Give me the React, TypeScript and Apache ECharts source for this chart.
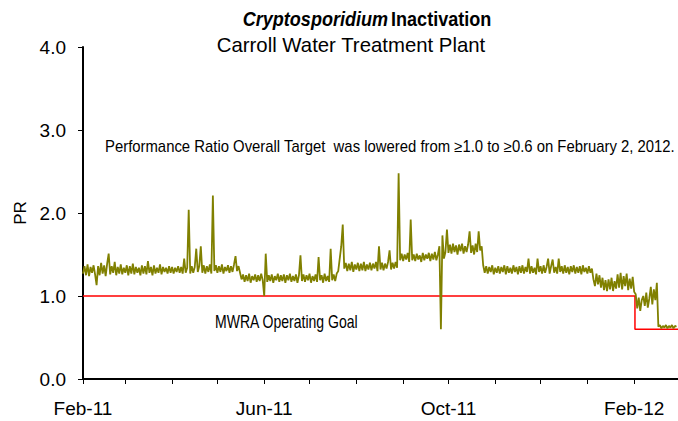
import React, { useEffect, useRef } from "react";
import * as echarts from "echarts";

// ---- data (daily PR values, Feb 1 2011 .. Feb 29 2012) ----
const START = { y: 2011, m: 1, d: 1 }; // Feb 1, 2011 (month 0-based)
const END = { y: 2012, m: 2, d: 1 }; // Mar 1, 2012 (axis end)

const prFebMay = [
  1.27, 1.36, 1.25, 1.38, 1.24, 1.35, 1.28, 1.37, 1.26, 1.13,
  1.36, 1.25, 1.40, 1.27, 1.37, 1.24, 1.39, 1.51, 1.26, 1.36,
  1.28, 1.41, 1.25, 1.35, 1.27, 1.38, 1.26, 1.34, 1.28, 1.37,
  1.25, 1.36, 1.27, 1.39, 1.26, 1.35, 1.28, 1.34, 1.25, 1.37,
  1.27, 1.36, 1.26, 1.42, 1.28, 1.35, 1.25, 1.37, 1.27, 1.34,
  1.28, 1.38, 1.26, 1.35, 1.29, 1.34, 1.27, 1.36, 1.28, 1.35,
  1.27, 1.34, 1.29, 1.36, 1.28, 1.35, 1.27, 1.45, 1.28, 1.34,
  2.04, 1.27, 1.36, 1.28, 1.35, 1.57, 1.29, 1.36, 1.60, 1.28,
  1.37, 1.27, 1.36, 1.29, 1.38, 1.27, 2.21, 1.30, 1.37, 1.28,
  1.36, 1.29, 1.38, 1.27, 1.35, 1.30, 1.37, 1.28, 1.36, 1.29,
  1.38, 1.48, 1.30, 1.36, 1.28,
];
const prMayJul = [
  1.20, 1.26, 1.17, 1.25, 1.18, 1.27, 1.16, 1.24, 1.19, 1.26,
  1.17, 1.25, 1.18, 1.27, 1.19, 1.00, 1.51, 1.17, 1.25, 1.18,
  1.26, 1.16, 1.24, 1.19, 1.27, 1.17, 1.25, 1.18, 1.26, 1.16,
  1.25, 1.19, 1.27, 1.17, 1.24, 1.18, 1.26, 1.16, 1.25, 1.49,
  1.18, 1.26, 1.17, 1.25, 1.19, 1.27, 1.16, 1.24, 1.18, 1.26,
  1.17, 1.47, 1.19, 1.25, 1.16, 1.27, 1.18, 1.24, 1.17, 1.57,
  1.19, 1.26, 1.18, 1.27, 1.30,
];
const prJulAug = [
  1.45, 1.60, 1.86, 1.33, 1.40, 1.30, 1.39, 1.31, 1.41, 1.29,
  1.38, 1.32, 1.40, 1.30, 1.39, 1.31, 1.41, 1.30, 1.38, 1.32,
  1.40, 1.31, 1.39, 1.33, 1.41, 1.30, 1.60, 1.32, 1.40, 1.31,
  1.39, 1.33, 1.41, 1.55, 1.32, 1.40, 1.33, 1.41, 1.34,
];
const prAugSep = [
  2.48, 1.43, 1.51, 1.42, 1.50, 1.44, 1.52, 1.41, 1.92, 1.43,
  1.50, 1.42, 1.51, 1.44, 1.49, 1.41, 1.52, 1.43, 1.50, 1.45,
  1.52, 1.42, 1.51, 1.44, 1.53, 1.43, 1.50, 1.60, 0.60, 1.73,
  1.45, 1.53,
];
const prOct = [
  1.80, 1.52, 1.62, 1.51, 1.63, 1.53, 1.61, 1.50, 1.62, 1.54,
  1.63, 1.51, 1.60, 1.53, 1.62, 1.78, 1.52, 1.61, 1.50, 1.63,
  1.53, 1.78, 1.55, 1.60, 1.37,
];
const prNovDec = [
  1.28, 1.36, 1.27, 1.35, 1.29, 1.37, 1.26, 1.34, 1.28, 1.36,
  1.27, 1.35, 1.29, 1.37, 1.26, 1.36, 1.28, 1.34, 1.27, 1.37,
  1.29, 1.35, 1.26, 1.36, 1.28, 1.37, 1.27, 1.35, 1.29, 1.45,
  1.27, 1.36, 1.28, 1.34, 1.26, 1.45, 1.29, 1.36, 1.27, 1.37,
  1.28, 1.35, 1.45, 1.27, 1.36, 1.44, 1.28, 1.35, 1.27, 1.45,
  1.29, 1.36, 1.27, 1.37, 1.28, 1.35, 1.26, 1.36, 1.29, 1.37,
  1.27, 1.35, 1.28, 1.36, 1.26, 1.37, 1.29, 1.34, 1.27, 1.36,
  1.28, 1.33,
];
const prJan = [
  1.20, 1.12, 1.27, 1.14, 1.25, 1.10, 1.22, 1.07, 1.19, 1.06,
  1.20, 1.08, 1.22, 1.06, 1.18, 1.09, 1.26, 1.10, 1.28, 1.08,
  1.24, 1.12, 1.27, 1.07, 1.21, 1.09, 1.23, 1.05,
];
const prEarlyFeb = [
  1.02, 0.85, 0.98, 0.82, 0.95, 1.00, 0.88, 1.04, 0.86, 0.97,
  1.11, 0.90, 1.08, 0.95, 1.16,
];
const prLateFeb = [
  0.63, 0.65, 0.61, 0.64, 0.62, 0.65, 0.61, 0.64, 0.62, 0.65,
  0.61, 0.64, 0.63,
];

const goalSteps = [
  { from: "2011-02-01", value: 1.0 },
  { from: "2012-02-02", value: 0.6 },
];

const xLabelDates = ["2011-02-01", "2011-06-01", "2011-10-01", "2012-02-01"];
const xLabelTexts = ["Feb-11", "Jun-11", "Oct-11", "Feb-12"];

const yMin = 0;
const yMax = 4;
const yStep = 1;

const titleMain = "Cryptosporidium";
const titleRest = "Inactivation";
const subtitle = "Carroll Water Treatment Plant";
const noteText =
  "Performance Ratio Overall Target  was lowered from \u22651.0 to \u22650.6 on February 2, 2012.";
const goalText = "MWRA Operating Goal";

function buildDays(): string[] {
  const out: string[] = [];
  const d = new Date(Date.UTC(START.y, START.m, START.d));
  const end = Date.UTC(END.y, END.m, END.d);
  while (d.getTime() <= end) {
    out.push(d.toISOString().slice(0, 10));
    d.setUTCDate(d.getUTCDate() + 1);
  }
  return out;
}

export default function App() {
  const ref = useRef<HTMLDivElement>(null);
  useEffect(() => {
    document.body.style.margin = "0";
    if (!ref.current) return;
    const chart = echarts.init(ref.current, null, { renderer: "svg" });
    const days = buildDays();
    const pr = [
      ...prFebMay,
      ...prMayJul,
      ...prJulAug,
      ...prAugSep,
      ...prOct,
      ...prNovDec,
      ...prJan,
      ...prEarlyFeb,
      ...prLateFeb,
    ];
    const goal = days.map((day) => {
      let v = goalSteps[0].value;
      for (const s of goalSteps) if (day >= s.from) v = s.value;
      return v;
    });
    const sans = "'Liberation Sans', Arial, sans-serif";
    chart.setOption({
      animation: false,
      backgroundColor: "#ffffff",
      grid: { left: 83, right: 0, top: 47, bottom: 42, containLabel: false },
      xAxis: {
        type: "category",
        data: days,
        boundaryGap: false,
        axisLine: { show: true, lineStyle: { color: "#000", width: 2 } },
        axisTick: {
          show: true,
          length: 5,
          lineStyle: { color: "#000", width: 1 },
          interval: (_i: number, v: string) => v.endsWith("-01"),
        },
        axisLabel: {
          interval: (_i: number, v: string) => xLabelDates.includes(v),
          formatter: (v: string) => {
            const k = xLabelDates.indexOf(v);
            return k >= 0 ? xLabelTexts[k] : "";
          },
          fontFamily: sans,
          fontSize: 19,
          color: "#000",
          margin: 20,
        },
        splitLine: { show: false },
      },
      yAxis: {
        type: "value",
        min: yMin,
        max: yMax,
        interval: yStep,
        name: "PR",
        nameLocation: "middle",
        nameRotate: 90,
        nameGap: 50,
        nameTextStyle: { fontFamily: sans, fontSize: 17, color: "#000" },
        axisLine: { show: true, lineStyle: { color: "#000", width: 2 } },
        axisTick: { show: true, length: 5, lineStyle: { color: "#000", width: 1 } },
        axisLabel: {
          formatter: (v: number) => v.toFixed(1),
          fontFamily: sans,
          fontSize: 19,
          color: "#000",
          margin: 17,
        },
        splitLine: { show: false },
      },
      graphic: [
        {
          type: "text",
          x: 367,
          y: 18,
          scaleX: 0.86,
          style: {
            text: `{i|${titleMain}} {b|${titleRest}}`,
            textAlign: "center",
            textVerticalAlign: "middle",
            rich: {
              i: { fontFamily: sans, fontSize: 21, fontWeight: "bold", fontStyle: "italic", fill: "#000" },
              b: { fontFamily: sans, fontSize: 21, fontWeight: "bold", fill: "#000" },
            },
          },
        },
        {
          type: "text",
          x: 351,
          y: 44,
          scaleX: 0.97,
          style: {
            text: subtitle,
            font: "21px 'Liberation Sans', Arial, sans-serif",
            fill: "#000",
            textAlign: "center",
            textVerticalAlign: "middle",
          },
        },
        {
          type: "text",
          x: 105,
          y: 146,
          scaleX: 0.93,
          style: {
            text: noteText,
            font: "16px 'Liberation Sans', Arial, sans-serif",
            fill: "#000",
            textVerticalAlign: "middle",
          },
        },
        {
          type: "text",
          x: 215,
          y: 321,
          scaleX: 0.78,
          style: {
            text: goalText,
            font: "18px 'Liberation Sans', Arial, sans-serif",
            fill: "#000",
            textVerticalAlign: "middle",
          },
        },
      ],
      series: [
        {
          type: "line",
          data: goal,
          step: "middle",
          showSymbol: false,
          z: 2,
          lineStyle: { color: "#ff0000", width: 1.5 },
          itemStyle: { color: "#ff0000" },
        },
        {
          type: "line",
          data: pr,
          showSymbol: false,
          z: 3,
          lineStyle: { color: "#808000", width: 1.8 },
          itemStyle: { color: "#808000" },
        },
      ],
    });
    return () => chart.dispose();
  }, []);
  return (
    <div
      ref={ref}
      style={{ position: "absolute", left: 0, top: 0, width: 678, height: 421 }}
    />
  );
}
